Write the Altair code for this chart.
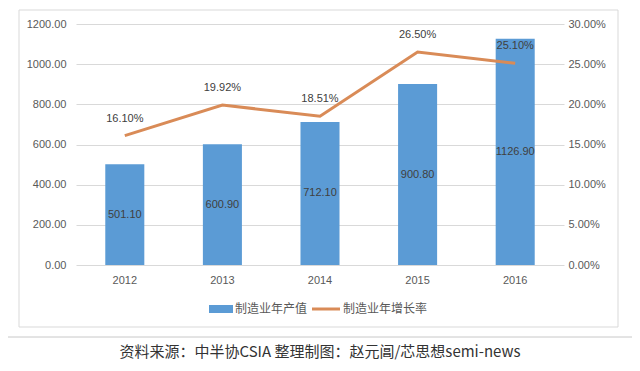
import altair as alt
import pandas as pd

years = ["2012", "2013", "2014", "2015", "2016"]
output = [501.10, 600.90, 712.10, 900.80, 1126.90]
growth = [0.1610, 0.1992, 0.1851, 0.2650, 0.2510]
left_ticks = [0, 200, 400, 600, 800, 1000, 1200]
right_ticks = [0, 0.05, 0.10, 0.15, 0.20, 0.25, 0.30]
bar_name = "制造业年产值"
line_name = "制造业年增长率"
footer = "资料来源：中半协CSIA  整理制图：赵元阊/芯思想semi-news"

BLUE = "#5B9BD5"
ORANGE = "#D98B57"
GRAY = "#595959"
NUM_FONT = "Liberation Sans"
CJK_FONT = "Noto Sans CJK SC"

df = pd.DataFrame({"year": years, "output": output, "growth": growth})

x = alt.X(
    "year:N", title=None, sort=years,
    scale=alt.Scale(paddingInner=0.6, paddingOuter=0.3),
    axis=alt.Axis(labelAngle=0, labelColor=GRAY, labelFontSize=11, labelFont=NUM_FONT,
                  ticks=False, domain=False, labelPadding=9),
)

left_axis = alt.Axis(values=left_ticks, format=".2f", orient="left", grid=True,
                     gridColor="#D9D9D9", domain=False, ticks=False, labelColor=GRAY,
                     labelFontSize=11, labelFont=NUM_FONT, labelPadding=10)
left_scale = alt.Scale(domain=[0, 1200], nice=False)
right_axis = alt.Axis(values=right_ticks, format=".2%", orient="right", grid=False,
                      domain=False, ticks=False, labelColor=GRAY, labelFontSize=11,
                      labelFont=NUM_FONT, labelPadding=4)
right_scale = alt.Scale(domain=[0, 0.30], nice=False)

bars = alt.Chart(df).mark_bar(color=BLUE).encode(
    x=x, y=alt.Y("output:Q", title=None, scale=left_scale, axis=left_axis))
bar_labels = alt.Chart(df).transform_calculate(mid="datum.output / 2").mark_text(
    font=NUM_FONT, fontSize=11, color="#404040", baseline="middle"
).encode(x=x, y=alt.Y("mid:Q", title=None, scale=left_scale, axis=left_axis),
         text=alt.Text("output:Q", format=".2f"))

line = alt.Chart(df).mark_line(color=ORANGE, strokeWidth=3).encode(
    x=x, y=alt.Y("growth:Q", title=None, scale=right_scale, axis=right_axis))
line_labels = alt.Chart(df).mark_text(
    font=NUM_FONT, fontSize=11, color="#404040", dy=-17, baseline="middle"
).encode(x=x, y=alt.Y("growth:Q", title=None, scale=right_scale, axis=right_axis),
         text=alt.Text("growth:Q", format=".2%"))

one = pd.DataFrame({"bar": [bar_name], "line": [line_name], "footer": [footer]})

frame = alt.Chart(one).mark_rect(fillOpacity=0, stroke="#D9D9D9", strokeWidth=1).encode(
    x=alt.value(-57), x2=alt.value(542), y=alt.value(-14), y2=alt.value(303))
sep = alt.Chart(one).mark_rule(color="#C8C8C8", strokeWidth=1).encode(
    x=alt.value(-68), x2=alt.value(556), y=alt.value(313))
leg_sw1 = alt.Chart(one).mark_rect(color=BLUE).encode(
    x=alt.value(133), x2=alt.value(157), y=alt.value(281), y2=alt.value(289))
leg_t1 = alt.Chart(one).mark_text(font=CJK_FONT, fontSize=12, color=GRAY, align="left",
                                  baseline="middle").encode(
    x=alt.value(159), y=alt.value(285), text="bar:N")
leg_sw2 = alt.Chart(one).mark_rule(color=ORANGE, strokeWidth=3).encode(
    x=alt.value(236), x2=alt.value(264), y=alt.value(285))
leg_t2 = alt.Chart(one).mark_text(font=CJK_FONT, fontSize=12, color=GRAY, align="left",
                                  baseline="middle").encode(
    x=alt.value(267), y=alt.value(285), text="line:N")
foot = alt.Chart(one).mark_text(font=CJK_FONT, fontSize=15, color="#333333", align="center",
                                baseline="middle").encode(
    x=alt.value(244), y=alt.value(328), text="footer:N")

chart = alt.layer(
    alt.layer(bars, bar_labels),
    alt.layer(line, line_labels),
    alt.layer(frame, sep, leg_sw1, leg_t1, leg_sw2, leg_t2, foot),
).resolve_scale(y="independent").properties(
    width=488, height=241,
    padding={"left": 68, "top": 16, "right": 68, "bottom": 98},
    autosize=alt.AutoSizeParams(type="none"),
    background="white",
).configure_view(stroke=None)

chart.save("out.html", embed_options={"renderer": "svg", "actions": False})
